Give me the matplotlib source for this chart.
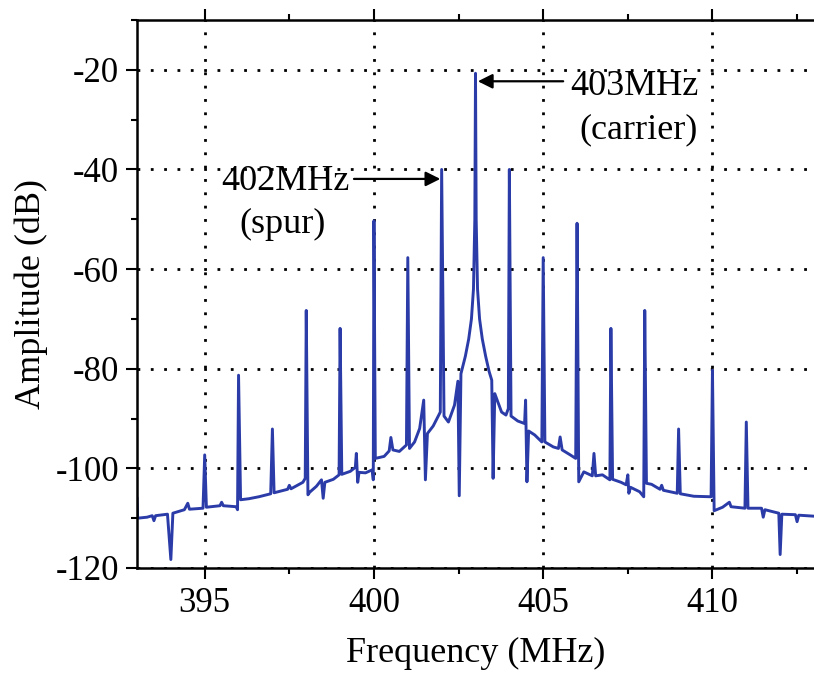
import matplotlib
matplotlib.use("Agg")
import matplotlib.pyplot as plt
from matplotlib.ticker import MultipleLocator

plt.rcParams['font.family'] = ['Liberation Serif', 'DejaVu Serif']
plt.rcParams['axes.unicode_minus'] = False

# spectrum trace (MHz, dB)
freq = [393.0, 393.02, 393.3, 393.45, 393.5, 393.55, 393.9, 394.0, 394.06, 394.4,
        394.5, 394.55, 394.95, 395.0, 395.05, 395.45, 395.5, 395.55, 395.93, 395.97,
        396.0, 396.06, 396.3, 396.6, 396.95, 397.0, 397.05, 397.45, 397.5, 397.55,
        397.9, 397.97, 398.0, 398.05, 398.1, 398.3, 398.45, 398.5, 398.55, 398.8,
        398.97, 399.0, 399.05, 399.3, 399.45, 399.48, 399.52, 399.56, 399.75, 399.95,
        399.98, 400.0, 400.04, 400.3, 400.45, 400.5, 400.56, 400.75, 400.96, 401.0,
        401.05, 401.2, 401.35, 401.47, 401.52, 401.58, 401.75, 401.96, 402.0, 402.07,
        402.2, 402.38, 402.48, 402.52, 402.57, 402.7, 402.8, 402.88, 402.94, 402.98,
        403.0, 403.02, 403.06, 403.12, 403.2, 403.3, 403.4, 403.48, 403.52, 403.57,
        403.77, 403.9, 403.97, 404.0, 404.05, 404.25, 404.45, 404.48, 404.52, 404.57,
        404.75, 404.96, 405.0, 405.05, 405.3, 405.45, 405.5, 405.56, 405.8, 405.96,
        406.0, 406.05, 406.2, 406.45, 406.5, 406.55, 406.75, 406.97, 407.0, 407.05,
        407.3, 407.45, 407.5, 407.53, 407.58, 407.85, 407.97, 408.0, 408.05, 408.2,
        408.45, 408.5, 408.55, 408.96, 409.0, 409.05, 409.45, 409.96, 410.0, 410.05,
        410.3, 410.5, 410.55, 410.96, 411.0, 411.05, 411.45, 411.5, 411.55, 411.96,
        412.0, 412.05, 412.45, 412.5, 412.55, 413.0]
amp_db = [-106.0, -110.0, -109.8, -109.5, -110.5, -109.5, -109.2, -118.3, -109.0, -108.3,
          -107.0, -108.2, -108.0, -97.3, -107.8, -107.5, -106.8, -107.5, -107.7, -108.3,
          -81.3, -106.3, -106.1, -105.7, -105.1, -92.1, -104.9, -104.2, -103.4, -104.1,
          -102.8, -102.0, -68.3, -105.3, -104.8, -103.6, -102.3, -106.0, -102.8, -102.2,
          -101.3, -71.9, -101.2, -100.6, -99.8, -97.0, -102.8, -100.8, -100.9, -100.3,
          -102.3, -50.3, -98.0, -97.6, -96.5, -93.8, -96.3, -96.6, -95.3, -57.7,
          -96.0, -94.7, -92.0, -86.3, -102.3, -93.0, -91.5, -88.7, -40.0, -89.5,
          -90.7, -87.3, -82.5, -105.5, -81.0, -77.5, -74.0, -70.0, -64.0, -50.0,
          -20.7, -50.0, -64.0, -70.0, -74.0, -77.5, -80.5, -82.3, -102.0, -85.0,
          -88.7, -89.3, -88.0, -40.0, -89.5, -90.5, -91.0, -86.3, -102.7, -92.5,
          -93.3, -94.7, -57.7, -94.7, -95.7, -96.0, -93.7, -96.3, -97.3, -98.0,
          -50.8, -102.7, -100.7, -101.5, -97.0, -101.5, -101.3, -102.3, -71.9, -102.2,
          -102.8, -103.3, -101.3, -105.0, -103.8, -104.7, -105.7, -68.3, -103.0, -103.2,
          -104.2, -103.4, -104.4, -105.0, -92.1, -105.1, -105.6, -105.7, -80.3, -108.5,
          -107.8, -106.8, -107.7, -108.0, -90.7, -108.0, -108.0, -109.8, -108.3, -109.0,
          -117.3, -109.2, -109.3, -110.7, -109.4, -109.6]

fig = plt.figure(figsize=(8.14, 6.73), dpi=100)
ax = fig.add_axes([137 / 814, 1 - 568 / 673, 1 - 137 / 814, (568 - 20) / 673])

ax.plot(freq, amp_db, color='#2b3ca8', lw=2.1)

ax.set_xlim(393, 413)
ax.set_ylim(-120, -10)
ax.xaxis.set_major_locator(MultipleLocator(5))
ax.xaxis.set_minor_locator(MultipleLocator(2.5))
ax.yaxis.set_major_locator(MultipleLocator(20))
ax.yaxis.set_minor_locator(MultipleLocator(10))

ax.grid(True, which='major', color='black', linestyle=(0, (1, 3.8)), linewidth=2.0)
ax.spines['right'].set_visible(False)
for s in ['left', 'top', 'bottom']:
    ax.spines[s].set_linewidth(1.8)
ax.tick_params(which='both', direction='out', top=True, right=False, width=1.5,
               labelsize=25, pad=5)
ax.tick_params(axis='x', which='both', pad=6)
ax.tick_params(which='major', length=8)
ax.tick_params(which='minor', length=4)

ax.set_xlabel('Frequency (MHz)', fontsize=26, labelpad=12)
ax.set_ylabel('Amplitude (dB)', fontsize=26, labelpad=5)

arrow = dict(arrowstyle='-|>', color='black', lw=1.6, mutation_scale=22, shrinkA=0, shrinkB=0)
ax.annotate('', xy=(401.96, -41.9), xytext=(399.41, -41.9), arrowprops=arrow)
ax.annotate('', xy=(403.07, -22.3), xytext=(405.59, -22.3), arrowprops=arrow)

ax.text(397.38, -44.1, '402MHz', fontsize=26, ha='center', va='baseline')
ax.text(397.29, -52.7, '(spur)', fontsize=26, ha='center', va='baseline')
ax.text(407.68, -25.0, '403MHz', fontsize=26, ha='center', va='baseline')
ax.text(407.82, -33.7, '(carrier)', fontsize=26, ha='center', va='baseline')

fig.savefig('out.png', dpi=100)
